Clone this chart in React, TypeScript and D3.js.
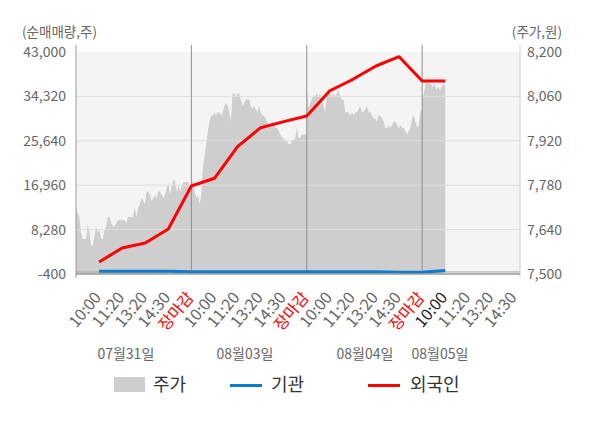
import * as d3 from 'd3'
import { useEffect, useRef } from 'react'

const dayLabels = ['07월31일', '08월03일', '08월04일', '08월05일']
const dayLabelPos = [2.16, 7.32, 12.52, 15.77]
const slotLabels = ['10:00', '11:20', '13:20', '14:30', '장마감']
const leftTicks = [-400, 8280, 16960, 25640, 34320, 43000]
const rightTicks = [7500, 7640, 7780, 7920, 8060, 8200]

// 외국인 / 기관 순매매량 (10:00, 11:20, 13:20, 14:30, 장마감 per day)
const foreign = [
  1950, 4680, 5660, 8400, 16800,
  18310, 24490, 28200, 29380, 30490,
  35430, 37660, 40260, 42080, 37330,
  37330,
]
const institution = [
  150, 150, 150, 150, 40,
  40, 40, 40, 40, 40,
  40, 40, 40, -60, -60,
  300,
]

// 주가 (intraday)
const price0731 = [
  7710, 7690, 7680, 7630, 7610, 7610, 7610, 7660, 7630, 7590, 7590, 7620, 7650, 7630,
  7640, 7610, 7610, 7640, 7650, 7680, 7680, 7660, 7650, 7650, 7660, 7670, 7670, 7670,
  7670, 7670, 7660, 7680, 7680, 7680, 7680, 7710, 7680, 7710, 7720, 7740, 7730, 7720,
  7760, 7760, 7750, 7730, 7740, 7750, 7740, 7760, 7760, 7750, 7740, 7750, 7770, 7790,
  7750, 7780, 7800, 7790, 7760, 7780, 7760, 7780, 7790, 7790, 7790, 7790, 7760,
]
const price0803 = [
  7800, 7790, 7760, 7740, 7750, 7720, 7750, 7840, 7870, 7910, 7950, 7980, 8000, 8000,
  8010, 8000, 8010, 8010, 8000, 8010, 8030, 8040, 8030, 8010, 7980, 8070, 8070, 8060,
  8070, 8070, 8050, 8030, 8040, 8050, 8050, 8050, 8030, 8020, 8030, 8020, 8010, 8030,
  8010, 8000, 8000, 7990, 7980, 7960, 7970, 7960, 7980, 7960, 7960, 7950, 7940, 7930,
  7930, 7920, 7920, 7910, 7910, 7920, 7920, 7930, 7960, 7930, 7930, 7940, 7940, 7940,
  7940,
]
const price0804 = [
  8090, 8020, 8040, 8050, 8060, 8060, 8070, 8060, 8070, 8050, 8030, 8010, 8060, 8070,
  8070, 8060, 8070, 8060, 8070, 8080, 8060, 8050, 8050, 8010, 8010, 8010, 8000, 8010,
  8000, 8010, 8010, 8020, 8030, 8010, 8010, 8020, 8030, 8010, 8010, 8000, 7990, 7990,
  7980, 8000, 8000, 7990, 7980, 7960, 7960, 7970, 7960, 7970, 7980, 7980, 7970, 7960,
  7970, 7960, 7960, 7950, 7940, 7950, 7960, 7990, 8000, 7980, 7960, 7970, 8010, 8020,
]
const price0805 = [
  8050, 8070, 8100, 8110, 8100, 8100, 8090, 8100, 8080, 8090, 8080, 8090, 8100, 8090,
]

export default function App() {
  const svgRef = useRef<SVGSVGElement | null>(null)

  useEffect(() => {
    if (!svgRef.current)
      return

    const width = 600
    const height = 428
    const left = 76
    const right = 520
    const top = 52
    const bottom = 274

    const svg = d3.select(svgRef.current)
    svg.selectAll('*').remove()
    svg
      .attr('width', width)
      .attr('height', height)
      .style('font-family', '"Noto Sans CJK KR", "Noto Sans", sans-serif')

    const x = d3.scaleLinear().domain([0, 19.24]).range([left, right])
    const yL = d3.scaleLinear().domain([-400, 43000]).range([bottom, top])
    const yR = d3.scaleLinear().domain([7500, 8200]).range([bottom, top])

    svg.append('rect')
      .attr('x', left).attr('y', top)
      .attr('width', right - left).attr('height', bottom - top)
      .attr('fill', '#f4f4f4')

    // 주가 area
    const dayRanges: [number, number][] = [[0, 4.95], [5, 10], [10, 15], [15, 16]]
    const priceDays = [price0731, price0803, price0804, price0805]
    const pricePts = priceDays.flatMap((arr, d) =>
      arr.map((p, j) => ({
        i: dayRanges[d][0] + (dayRanges[d][1] - dayRanges[d][0]) * j / (arr.length - 1),
        p,
      })))

    const area = d3.area<{ i: number, p: number }>()
      .x(d => x(d.i))
      .y0(yR(7500))
      .y1(d => yR(d.p))
    svg.append('path').datum(pricePts).attr('d', area).attr('fill', '#cecece')

    // grid
    svg.append('g')
      .selectAll('line')
      .data(leftTicks.slice(1, -1))
      .enter()
      .append('line')
      .attr('x1', left).attr('x2', right)
      .attr('y1', d => yL(d)).attr('y2', d => yL(d))
      .attr('stroke', '#dedede')

    // day separators
    svg.append('g')
      .selectAll('line')
      .data([5, 10, 15])
      .enter()
      .append('line')
      .attr('x1', d => x(d)).attr('x2', d => x(d))
      .attr('y1', 45).attr('y2', bottom)
      .attr('stroke', '#8f8f8f')

    // zero line
    svg.append('line')
      .attr('x1', left).attr('x2', right)
      .attr('y1', yL(0)).attr('y2', yL(0))
      .attr('stroke', '#a8a8a8')

    const line = d3.line<number>()
      .x((_, i) => x(i + 1))
      .y(d => yL(d))

    svg.append('path').datum(institution)
      .attr('d', line).attr('fill', 'none')
      .attr('stroke', '#0b7dcf').attr('stroke-width', 3)

    svg.append('path').datum(foreign)
      .attr('d', line).attr('fill', 'none')
      .attr('stroke', '#ff0000').attr('stroke-width', 3)
      .attr('stroke-linejoin', 'round')

    // axes lines
    svg.append('line')
      .attr('x1', left).attr('x2', left).attr('y1', 45).attr('y2', 278)
      .attr('stroke', '#999')
    svg.append('line')
      .attr('x1', right).attr('x2', right).attr('y1', 45).attr('y2', 278)
      .attr('stroke', '#d0d0d0')
    svg.append('line')
      .attr('x1', left).attr('x2', right).attr('y1', bottom).attr('y2', bottom)
      .attr('stroke', '#999').attr('stroke-width', 1.5)

    // y tick labels
    svg.append('g')
      .selectAll('text')
      .data(leftTicks)
      .enter()
      .append('text')
      .attr('x', 66).attr('y', d => yL(d))
      .attr('dy', '0.35em')
      .attr('text-anchor', 'end')
      .attr('font-size', 14)
      .attr('fill', '#666')
      .text(d => d3.format(',')(d).replace('−', '-'))

    svg.append('g')
      .selectAll('text')
      .data(rightTicks)
      .enter()
      .append('text')
      .attr('x', 527).attr('y', d => yR(d))
      .attr('dy', '0.35em')
      .attr('font-size', 14)
      .attr('fill', '#666')
      .text(d => d3.format(',')(d))

    svg.append('text')
      .attr('x', 22).attr('y', 37)
      .attr('font-size', 13.5).attr('fill', '#666')
      .text('(순매매량,주)')
    svg.append('text')
      .attr('x', 562).attr('y', 37)
      .attr('text-anchor', 'end')
      .attr('font-size', 13.5).attr('fill', '#666')
      .text('(주가,원)')

    // x tick labels
    const xTicks = dayLabels
      .flatMap((_, d) => slotLabels.map((s, k) => ({ i: d * 5 + k + 1, s })))
      .filter(t => t.i <= 19)

    svg.append('g')
      .selectAll('text')
      .data(xTicks)
      .enter()
      .append('text')
      .attr('transform', d => `translate(${x(d.i) + 3},298) rotate(-50)`)
      .attr('text-anchor', 'end')
      .attr('font-size', 16)
      .attr('fill', d => d.s === '장마감' ? '#ff0000' : d.i === 16 ? '#222' : '#666')
      .text(d => d.s)

    svg.append('g')
      .selectAll('text')
      .data(dayLabels)
      .enter()
      .append('text')
      .attr('x', (_, i) => x(dayLabelPos[i]))
      .attr('y', 354)
      .attr('dy', '0.35em')
      .attr('text-anchor', 'middle')
      .attr('font-size', 14)
      .attr('fill', '#666')
      .text(d => d)

    // legend
    const legend = svg.append('g').attr('font-size', 18).attr('fill', '#333')
    legend.append('rect').attr('x', 114).attr('y', 377).attr('width', 31).attr('height', 15).attr('fill', '#cecece')
    legend.append('text').attr('x', 153).attr('y', 385).attr('dy', '0.35em').text('주가')
    legend.append('line').attr('x1', 230).attr('x2', 262).attr('y1', 385.5).attr('y2', 385.5)
      .attr('stroke', '#0b7dcf').attr('stroke-width', 3)
    legend.append('text').attr('x', 271).attr('y', 385).attr('dy', '0.35em').text('기관')
    legend.append('line').attr('x1', 368).attr('x2', 400).attr('y1', 385.5).attr('y2', 385.5)
      .attr('stroke', '#ff0000').attr('stroke-width', 3)
    legend.append('text').attr('x', 410).attr('y', 385).attr('dy', '0.35em').text('외국인')
  }, [])

  return (
    <svg ref={svgRef} style={{ position: 'absolute', left: 0, top: 0 }}></svg>
  )
}
